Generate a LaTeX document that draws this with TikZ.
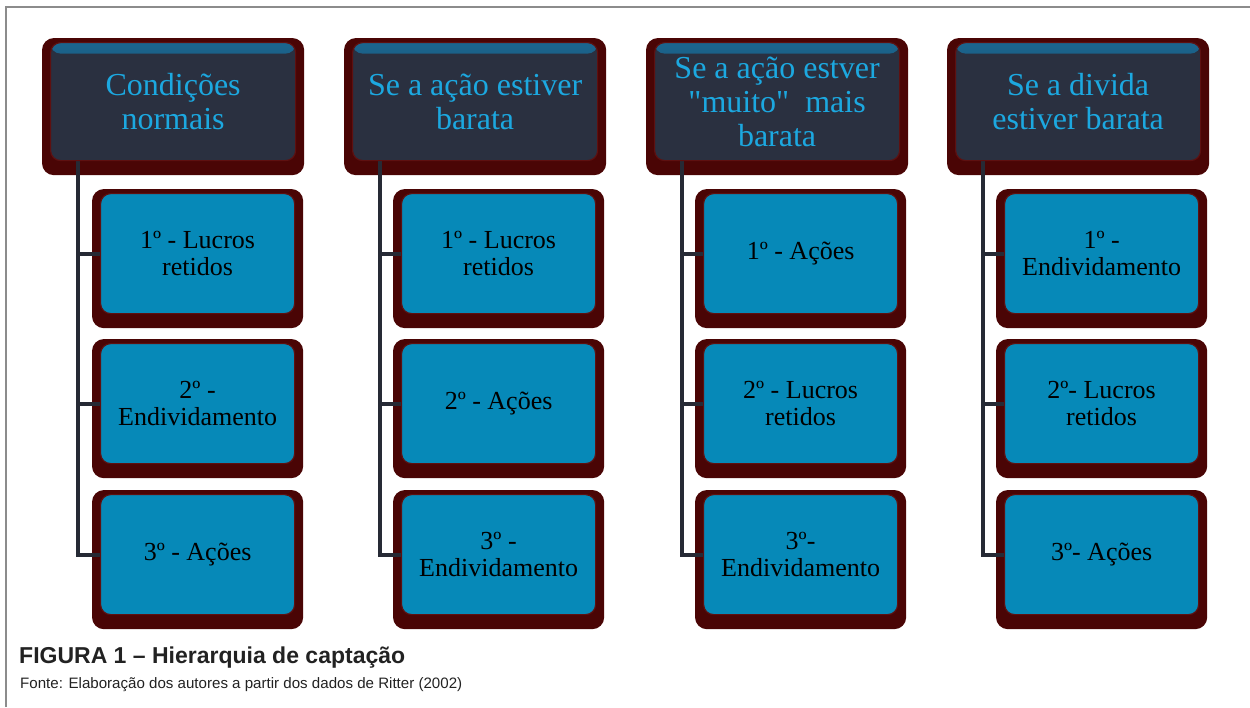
\documentclass[tikz,border=0pt]{standalone}
\usepackage{fontspec}
\setmainfont{Liberation Serif}[Ligatures=TeXOff]
\newfontfamily\capfont{Liberation Sans}
\pgfdeclarelayer{shadowlayer}
\pgfdeclarelayer{connlayer}
\pgfsetlayers{shadowlayer,connlayer,main}
\definecolor{shadowred}{HTML}{4A0505}
\definecolor{edgered}{HTML}{5E1010}
\definecolor{hdrfill}{HTML}{2A3040}
\definecolor{hdrtop}{HTML}{1A6690}
\definecolor{hdrtext}{HTML}{1CA8E0}
\definecolor{childfill}{HTML}{0689B8}
\definecolor{connclr}{HTML}{262A35}
\definecolor{framegray}{HTML}{8C8C8C}
\definecolor{captext}{HTML}{222222}
\tikzset{
  hdrbox/.style={anchor=north west, minimum width=245pt, minimum height=118pt,
    text width=240pt, align=flush center, rounded corners=10pt, fill=hdrfill,
    draw=edgered, line width=1.2pt, text=hdrtext, inner sep=0pt,
    font=\fontsize{32}{34}\selectfont,
    path picture={\fill[top color=hdrtop, bottom color=hdrfill]
      ([yshift=1pt]path picture bounding box.north west) rectangle
      ([yshift=-11pt]path picture bounding box.north east);}},
  childbox/.style={anchor=north west, minimum width=194pt, minimum height=120pt,
    text width=192pt, align=flush center, rounded corners=10pt, fill=childfill,
    draw=edgered, line width=1.2pt, text=black, inner sep=0pt,
    font=\fontsize{26}{27}\selectfont},
  conn/.style={draw=connclr, line width=4pt},
  shadowfill/.style={fill=shadowred, rounded corners=12pt}
}
\newcommand\boxshadow[1]{%
  \begin{pgfonlayer}{shadowlayer}
  \path[shadowfill] ([xshift=-8pt,yshift=4pt]#1.north west) rectangle ([xshift=8pt,yshift=-14pt]#1.south east);
  \end{pgfonlayer}}
\begin{document}
\begin{tikzpicture}[x=1pt,y=-1pt]
\useasboundingbox (0,0) rectangle (1250,707);
\draw[framegray, line width=1.2pt] (6,707) -- (6,7) -- (1250,7);

% column 1
\node[hdrbox] (h1) at (50,42) {Condições\\normais};
\node[childbox] (c11) at (100,193) {1º - Lucros\\retidos};
\node[childbox] (c12) at (100,343) {2º -\\Endividamento};
\node[childbox] (c13) at (100,494) {3º - Ações};
% column 2
\node[hdrbox] (h2) at (352,42) {Se a ação estiver\\barata};
\node[childbox] (c21) at (401,193) {1º - Lucros\\retidos};
\node[childbox] (c22) at (401,343) {2º - Ações};
\node[childbox] (c23) at (401,494) {3º -\\Endividamento};
% column 3
\node[hdrbox] (h3) at (654,42) {Se a ação estver\\"muito"\ \ mais\\barata};
\node[childbox] (c31) at (703,193) {1º - Ações};
\node[childbox] (c32) at (703,343) {2º - Lucros\\retidos};
\node[childbox] (c33) at (703,494) {3º-\\Endividamento};
% column 4
\node[hdrbox] (h4) at (955,42) {Se a divida\\estiver barata};
\node[childbox] (c41) at (1004,193) {1º -\\Endividamento};
\node[childbox] (c42) at (1004,343) {2º- Lucros\\retidos};
\node[childbox] (c43) at (1004,494) {3º- Ações};

\foreach \n in {h1,c11,c12,c13,h2,c21,c22,c23,h3,c31,c32,c33,h4,c41,c42,c43}{\boxshadow{\n}}

\begin{pgfonlayer}{connlayer}
\foreach \c in {1,2,3,4}{
  \coordinate (v\c) at ([xshift=28pt,yshift=2pt]h\c.south west);
  \draw[conn] (v\c) |- (c\c3.west);
  \draw[conn] (v\c |- c\c1.west) -- (c\c1.west);
  \draw[conn] (v\c |- c\c2.west) -- (c\c2.west);
}
\end{pgfonlayer}

\node[anchor=base west, inner sep=0pt, text=captext,
  font=\capfont\bfseries\fontsize{23}{27}\selectfont] (cap) at (19,663)
  {FIGURA 1 – Hierarquia de captação};
\node[anchor=base west, inner sep=0pt, text=captext,
  font=\capfont\fontsize{15.1}{18}\selectfont] (src) at (20,688)
  {Fonte: Elaboração dos autores a partir dos dados de Ritter (2002)};
\end{tikzpicture}
\end{document}
